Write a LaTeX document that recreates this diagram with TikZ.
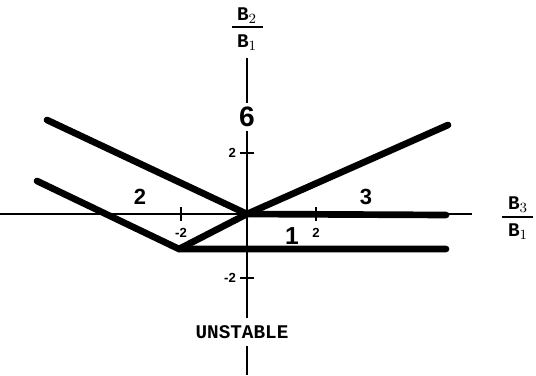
\documentclass[tikz,border=0pt]{standalone}
\usepackage{fontspec}
\setmainfont{Liberation Sans}
\newfontfamily\labfont{Liberation Mono}
\usetikzlibrary{positioning}
\tikzset{
  axis/.style={line width=0.9pt,color=black},
  branch/.style={line width=3.8pt,color=black,line cap=round,line join=miter},
  tick/.style={line width=0.8pt},
  ticklab/.style={font=\bfseries\fontsize{7.5}{8}\selectfont,inner sep=1pt},
  region/.style={font=\bfseries\fontsize{12.5}{13}\selectfont,inner sep=1pt},
  ratio/.style={font=\labfont\bfseries\fontsize{11}{12}\selectfont,inner sep=1pt}
}
\begin{document}
\begin{tikzpicture}[x=0.02cm,y=-0.02cm]
  \useasboundingbox (0,0) rectangle (536,375);
  % reference points
  \coordinate (O) at (247,214);
  \coordinate (ul) at (47,120);
  \coordinate (ll) at (37,181);
  \coordinate (K) at (179,249);
  \coordinate (ur) at (448,125);
  \coordinate (xr) at (446,215);
  \coordinate (lr) at (446,249);
  \coordinate (xl) at (0,214);
  \coordinate (xe) at (472,214);
  \coordinate (yt) at (247,58);
  \coordinate (yb) at (247,375);
  % labels on the vertical axis
  \node[font=\bfseries\fontsize{16}{17}\selectfont,inner sep=2pt] (six) at (247,117) {6};
  \node[font=\labfont\bfseries\fontsize{11}{12}\selectfont,inner sep=4pt] (unst) at (242,332) {UNSTABLE};
  % axes
  \draw[axis] (xl) -- (xe);
  \draw[axis] (yt) -- (six.north);
  \draw[axis] (six.south) -- (O |- unst.north);
  \draw[axis] (O |- unst.south) -- (yb);
  % ticks
  \foreach \px/\lab in {181/-2,316/2}{
    \draw[tick] (\px,207) -- (\px,221);
    \node[ticklab] at (\px,233) {\lab};
  }
  \foreach \py/\lab in {153/2,278/-2}{
    \draw[tick] (240,\py) -- (254,\py);
    \node[ticklab,anchor=east] at (238,\py) {\lab};
  }
  % branches
  \draw[branch] (ul) -- (O);
  \draw[branch] (ll) -- (K) -- (lr);
  \draw[branch] (K) -- (O) -- (ur);
  \draw[branch] (O) -- (xr);
  % region numbers
  \node[region] (r2) at (140,197) {2};
  \node[region] (r3) at (366,197) {3};
  \node[font=\bfseries\fontsize{14}{15}\selectfont,inner sep=1pt] (r1) at (292,236) {1};
  % axis quantities
  \node[ratio] (b2) at (247,16) {B$_2$};
  \node[ratio] (b1y) at (247,43) {B$_1$};
  \draw[line width=1.2pt] (232,27) -- (263,27);
  \node[ratio] (b3) at (518,205) {B$_3$};
  \node[ratio] (b1x) at (518,232) {B$_1$};
  \draw[line width=1.2pt] (502,217) -- (533,217);
\end{tikzpicture}
\end{document}
